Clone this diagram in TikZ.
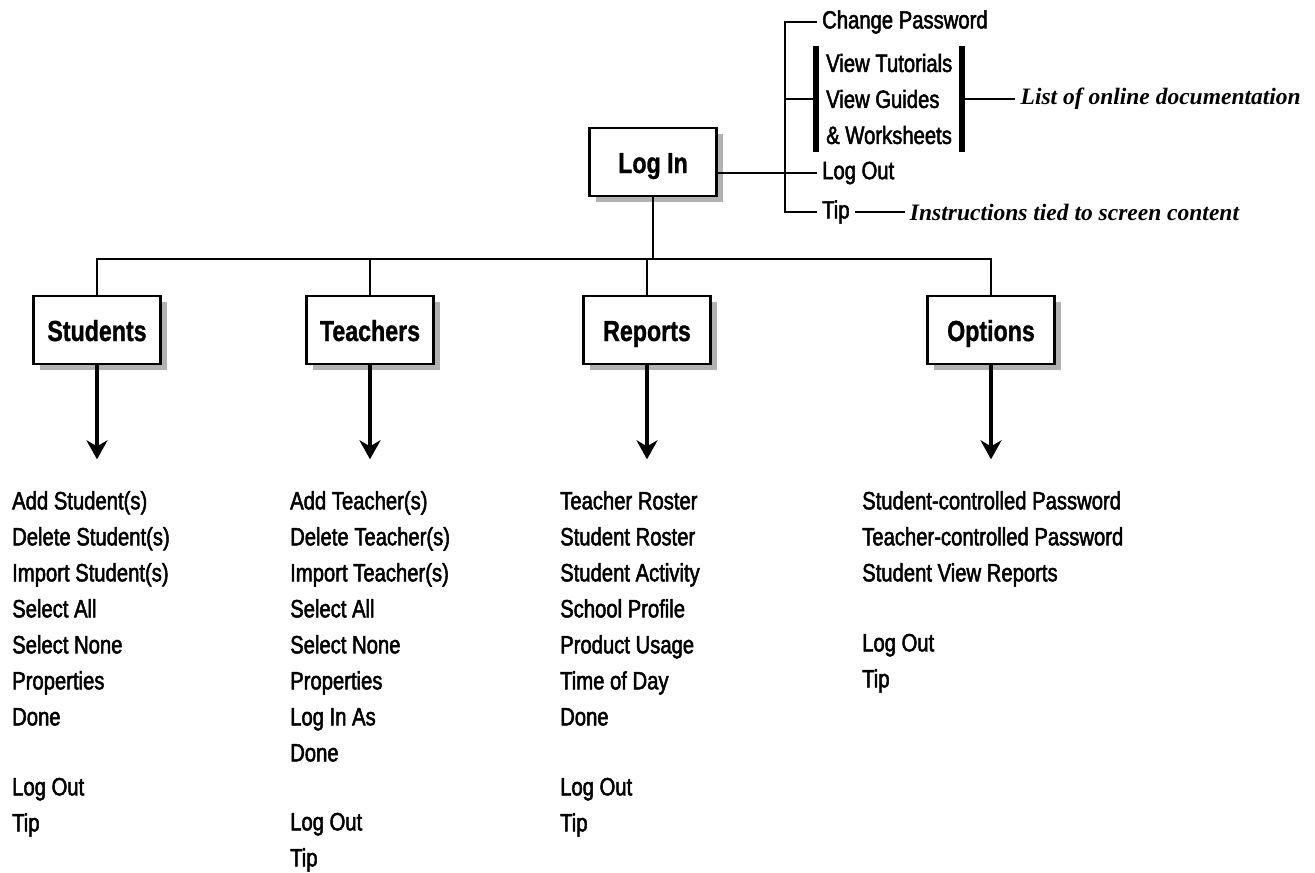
\documentclass[tikz,border=0pt]{standalone}
\usepackage{fontspec}
\setmainfont{Liberation Sans}[FakeStretch=0.81,FakeBold=2]
\newfontfamily\boxfont{Liberation Sans Bold}[FakeStretch=0.80,FakeBold=1]
\newfontfamily\notefont{Liberation Serif Bold Italic}
\usepackage{tikz}
\usetikzlibrary{arrows.meta,positioning,shadows}

\begin{document}
\begin{tikzpicture}[x=1pt,y=-1pt,
    catbox/.style={draw,line width=2.6pt,fill=white,minimum width=127pt,minimum height=68pt,
      text height=26pt,text depth=4pt,font=\boxfont\fontsize{29}{34}\selectfont,
      drop shadow={shadow xshift=6pt,shadow yshift=-6pt,fill=black!30,opacity=1}},
    item/.style={anchor=west,inner xsep=5pt,inner ysep=0pt,font=\fontsize{25}{36}\selectfont},
    docsbox/.style={anchor=west,align=left,inner xsep=10pt,minimum height=105pt,font=\fontsize{25}{36}\selectfont},
    note/.style={inner xsep=5pt,inner ysep=0pt,font=\notefont\fontsize{23.5}{28}\selectfont},
    list/.style={anchor=north west,align=left,inner sep=0pt,font=\fontsize{25}{36}\selectfont},
    link/.style={line width=2.2pt},
    bar/.style={line width=6pt},
    arr/.style={line width=3.5pt,-{Stealth[length=19pt,width=21pt,inset=6pt]}}]
   \useasboundingbox (0,0) rectangle (1315,873);

   \node[catbox] (login) at (653,162) {Log In};
   \node[catbox] (students) at (97,330) {Students};
   \node[catbox] (teachers) at (370,330) {Teachers};
   \node[catbox] (reports) at (647,330) {Reports};
   \node[catbox] (options) at (991,330) {Options};

   \coordinate (spine) at (785,0);
   \coordinate (bus) at (0,259);

   \node[item] (chpw) at (817,22) {Change Password};
   \node[docsbox] (docs) at (816,99) {View Tutorials\\View Guides\\\& Worksheets};
   \node[item] (logout) at (817,173) {Log Out};
   \node[item] (tip) at (817,212) {Tip};
   \node[note,right=53pt of docs] (docnote) {List of online documentation};
   \node[note,right=50pt of tip] (tipnote) {Instructions tied to screen content};

   \draw[bar] (docs.north west) -- (docs.south west);
   \draw[bar] (docs.north east) -- (docs.south east);
   \draw[link] (chpw.west) -- (chpw.west -| spine) |- (tip.west);
   \draw[link] (docs.west -| spine) -- (docs.west);
   \draw[link] (login.east |- logout.west) -- (logout.west);
   \draw[link] (docs.east) -- (docnote.west);
   \draw[link] (tip.east) -- (tipnote.west);

   \draw[link] (login.south) -- (login.south |- bus);
   \draw[link] (students.north) |- (bus -| options.north) -- (options.north);
   \foreach \n in {teachers,reports}
     \draw[link] (\n.north) -- (\n.north |- bus);
   \foreach \n in {students,teachers,reports,options} {
     \coordinate (\n-end) at ([yshift=-94pt]\n.south);
     \draw[arr] (\n.south) -- (\n-end);
   }

   \node[list] (studlist) at (12,491) {Add Student(s)\\Delete Student(s)\\Import Student(s)\\Select All\\Select None\\Properties\\Done\\[34pt]Log Out\\Tip};
   \node[list] (teachlist) at (290,491) {Add Teacher(s)\\Delete Teacher(s)\\Import Teacher(s)\\Select All\\Select None\\Properties\\Log In As\\Done\\[33pt]Log Out\\Tip};
   \node[list] (replist) at (560,491) {Teacher Roster\\Student Roster\\Student Activity\\School Profile\\Product Usage\\Time of Day\\Done\\[34pt]Log Out\\Tip};
   \node[list] (optlist) at (862,491) {Student-controlled Password\\Teacher-controlled Password\\Student View Reports\\[34pt]Log Out\\Tip};
\end{tikzpicture}
\end{document}
